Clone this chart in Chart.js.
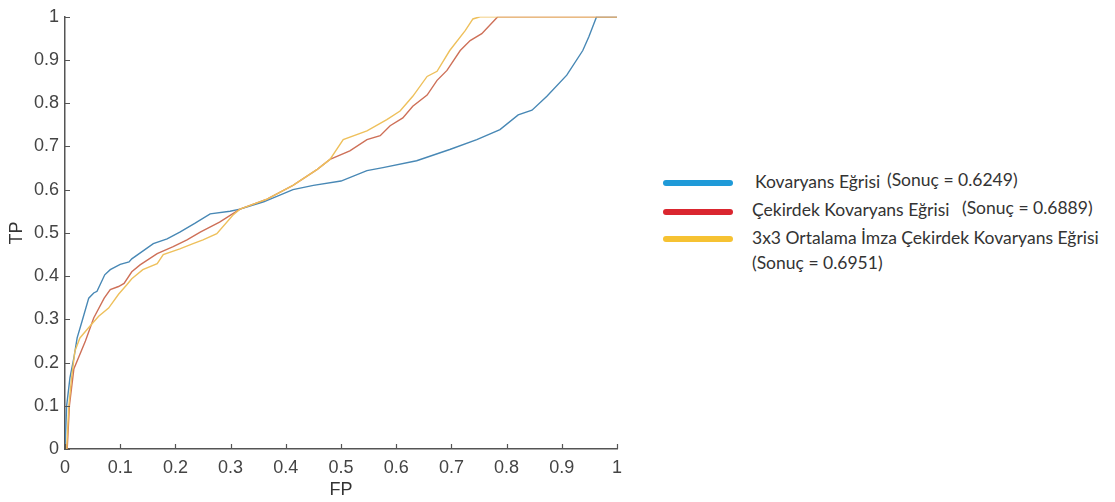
<!DOCTYPE html>
<html lang="tr">
<head>
<meta charset="UTF-8">
<title>ROC Eğrileri</title>
<script src="https://cdn.jsdelivr.net/npm/chart.js"></script>
<style>
    body { margin: 0; background: #fff; width: 1115px; height: 502px; position: relative; overflow: hidden; }
    #chart-wrap { position: absolute; left: 0; top: 0; width: 640px; height: 502px; }
    #legend { position: absolute; left: 0; top: 0; font-family: Lato, "Open Sans", sans-serif; font-size: 17.5px; color: #333; }
    .swatch { position: absolute; width: 70px; height: 6px; border-radius: 3px; }
    .lbl { position: absolute; white-space: nowrap; line-height: 20px; }
</style>
</head>
<body>
<div id="chart-wrap"><canvas id="rocChart"></canvas></div>
<div id="legend"></div>

<script>
// eksen etiketleri
const xTickLabels = ['0', '0.1', '0.2', '0.3', '0.4', '0.5', '0.6', '0.7', '0.8', '0.9', '1'];
const yTickLabels = ['0', '0.1', '0.2', '0.3', '0.4', '0.5', '0.6', '0.7', '0.8', '0.9', '1'];

// Kovaryans Eğrisi
const fpKovaryans = [0, 0.003, 0.009, 0.016, 0.022, 0.031, 0.043, 0.052, 0.058, 0.072, 0.082, 0.1, 0.116, 0.121, 0.16, 0.185, 0.208, 0.235, 0.263, 0.299, 0.317, 0.36, 0.413, 0.45, 0.5, 0.547, 0.576, 0.637, 0.697, 0.746, 0.788, 0.821, 0.846, 0.873, 0.909, 0.938, 0.949, 0.956, 0.963, 1];
const tpKovaryans = [0, 0.1, 0.165, 0.21, 0.257, 0.296, 0.349, 0.361, 0.365, 0.403, 0.415, 0.427, 0.433, 0.44, 0.475, 0.486, 0.502, 0.522, 0.544, 0.55, 0.555, 0.572, 0.6, 0.61, 0.62, 0.644, 0.651, 0.667, 0.693, 0.716, 0.739, 0.773, 0.784, 0.816, 0.865, 0.922, 0.954, 0.977, 1, 1];

// Çekirdek Kovaryans Eğrisi
const fpCekirdek = [0.004, 0.008, 0.016, 0.037, 0.052, 0.071, 0.082, 0.097, 0.107, 0.121, 0.136, 0.167, 0.196, 0.221, 0.245, 0.28, 0.317, 0.366, 0.413, 0.457, 0.48, 0.516, 0.547, 0.571, 0.589, 0.612, 0.63, 0.656, 0.674, 0.692, 0.716, 0.734, 0.755, 0.784, 1];
const tpCekirdek = [0, 0.1, 0.185, 0.25, 0.303, 0.349, 0.369, 0.376, 0.383, 0.41, 0.426, 0.452, 0.468, 0.484, 0.502, 0.525, 0.555, 0.578, 0.61, 0.647, 0.67, 0.69, 0.716, 0.725, 0.748, 0.766, 0.793, 0.819, 0.853, 0.876, 0.922, 0.945, 0.961, 1, 1];

// 3x3 Ortalama İmza Çekirdek Kovaryans Eğrisi
const fpOrtalama = [0.003, 0.007, 0.012, 0.018, 0.027, 0.045, 0.061, 0.079, 0.097, 0.112, 0.121, 0.141, 0.167, 0.178, 0.208, 0.232, 0.25, 0.275, 0.304, 0.317, 0.366, 0.413, 0.457, 0.48, 0.504, 0.547, 0.583, 0.607, 0.63, 0.656, 0.674, 0.697, 0.725, 0.739, 0.752, 1];
const tpOrtalama = [0, 0.1, 0.165, 0.227, 0.257, 0.284, 0.307, 0.326, 0.358, 0.38, 0.394, 0.415, 0.429, 0.45, 0.463, 0.475, 0.484, 0.498, 0.541, 0.555, 0.578, 0.61, 0.647, 0.67, 0.716, 0.736, 0.762, 0.782, 0.816, 0.862, 0.874, 0.922, 0.968, 0.995, 1, 1];

const legendLabels = [
    ['Kovaryans Eğrisi', '(Sonuç = 0.6249)'],
    ['Çekirdek Kovaryans Eğrisi', '(Sonuç = 0.6889)'],
    ['3x3 Ortalama İmza Çekirdek Kovaryans Eğrisi', '(Sonuç = 0.6951)']
];
const lineColors = ['rgb(72,136,181)', 'rgb(206,112,88)', 'rgb(238,192,92)'];
const legendColors = ['#1f9ad8', '#da262f', '#f6c232'];

function toPoints(xs, ys) {
    return xs.map((x, i) => ({ x: x, y: ys[i] }));
}

// ic tarafa bakan tik cizgileri
const innerTicks = {
    id: 'innerTicks',
    afterDraw(chart) {
        const ctx = chart.ctx;
        const xs = chart.scales.x, ys = chart.scales.y;
        ctx.save();
        ctx.strokeStyle = '#555';
        ctx.lineWidth = 1.2;
        ctx.beginPath();
        xs.ticks.forEach(t => {
            const px = Math.round(xs.getPixelForValue(t.value)) + 0.5;
            ctx.moveTo(px, ys.bottom);
            ctx.lineTo(px, ys.bottom - 5);
        });
        ys.ticks.forEach(t => {
            const py = Math.round(ys.getPixelForValue(t.value)) + 0.5;
            ctx.moveTo(xs.left, py);
            ctx.lineTo(xs.left + 5, py);
        });
        ctx.stroke();
        ctx.restore();
    }
};

const ctx = document.getElementById('rocChart').getContext('2d');
new Chart(ctx, {
    type: 'scatter',
    data: {
        datasets: [{
            label: legendLabels[0].join(' '),
            data: toPoints(fpKovaryans, tpKovaryans),
            borderColor: lineColors[0],
            order: 3
        }, {
            label: legendLabels[1].join(' '),
            data: toPoints(fpCekirdek, tpCekirdek),
            borderColor: lineColors[1],
            order: 2
        }, {
            label: legendLabels[2].join(' '),
            data: toPoints(fpOrtalama, tpOrtalama),
            borderColor: lineColors[2],
            order: 1
        }]
    },
    options: {
        responsive: true,
        maintainAspectRatio: false,
        animation: false,
        showLine: true,
        elements: {
            point: { radius: 0 },
            line: { borderWidth: 1.4, tension: 0 }
        },
        layout: { padding: { top: 13, right: 23, left: 0, bottom: 0 } },
        plugins: {
            legend: { display: false },
            tooltip: { enabled: false }
        },
        scales: {
            x: {
                type: 'linear',
                min: 0,
                max: 1,
                afterFit: s => { s.height = 53; },
                grid: { display: false, drawTicks: false },
                border: { display: true, color: '#555', width: 1.5 },
                ticks: {
                    stepSize: 0.1,
                    padding: 8,
                    color: '#444',
                    maxRotation: 0,
                    font: { family: 'Liberation Sans', size: 18 },
                    callback: (v, i) => xTickLabels[i]
                },
                title: {
                    display: true,
                    text: 'FP',
                    color: '#333',
                    font: { family: 'Liberation Sans', size: 18 },
                    padding: { top: 0, bottom: 1 }
                }
            },
            y: {
                type: 'linear',
                min: 0,
                max: 1,
                afterFit: s => { s.width = 65; },
                grid: { display: false, drawTicks: false },
                border: { display: true, color: '#555', width: 1.5 },
                ticks: {
                    stepSize: 0.1,
                    padding: 6,
                    color: '#444',
                    font: { family: 'Liberation Sans', size: 18 },
                    callback: (v, i) => yTickLabels[i]
                },
                title: {
                    display: true,
                    text: 'TP',
                    color: '#333',
                    font: { family: 'Liberation Sans', size: 18 },
                    padding: { top: 6, bottom: 0 }
                }
            }
        }
    },
    plugins: [innerTicks]
});

// lejant
const legend = document.getElementById('legend');
const swatchY = [180, 209, 236];
const rowY = [172, 200, 228];
legendLabels.forEach((parts, i) => {
    const sw = document.createElement('div');
    sw.className = 'swatch';
    sw.style.left = '663px';
    sw.style.top = swatchY[i] + 'px';
    sw.style.background = legendColors[i];
    legend.appendChild(sw);
});
const rows = [
    { text: legendLabels[0][0], x: 755, y: rowY[0] },
    { text: legendLabels[0][1], x: 887, y: rowY[0] - 2 },
    { text: legendLabels[1][0], x: 752, y: rowY[1] },
    { text: legendLabels[1][1], x: 962, y: rowY[1] - 2 },
    { text: legendLabels[2][0], x: 752, y: rowY[2] },
    { text: legendLabels[2][1], x: 752, y: rowY[2] + 25 }
];
rows.forEach(r => {
    const d = document.createElement('div');
    d.className = 'lbl';
    d.textContent = r.text;
    d.style.left = r.x + 'px';
    d.style.top = r.y + 'px';
    legend.appendChild(d);
});
</script>
</body>
</html>
